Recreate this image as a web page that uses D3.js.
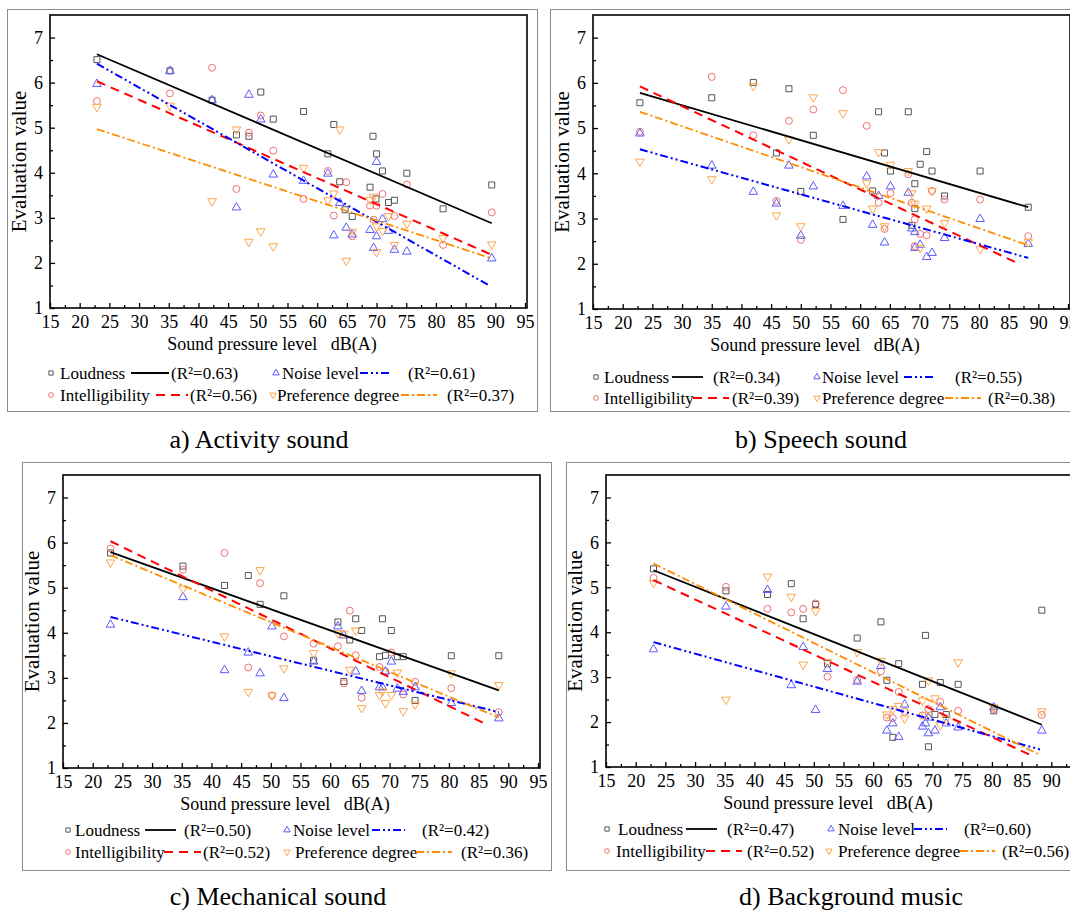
<!DOCTYPE html>
<html>
<head>
<meta charset="utf-8">
<script src="https://cdn.jsdelivr.net/npm/d3@7"></script>
<style>
body { margin: 0; background: #fff; }
svg { display: block; font-family: "Liberation Serif", "Times New Roman", serif; }
</style>
</head>
<body>
<svg id="chart" width="1070" height="911"></svg>
<script>
// ---- data: [sound pressure level dB(A), evaluation value] ----
const seriesNames = ["Loudness", "Intelligibility", "Noise level", "Preference degree"];

// a) Activity sound
const actLoud = [[22.9,6.51],[35.2,6.26],[42.3,5.61],[46.4,4.84],[48.5,4.81],[50.5,5.79],[52.6,5.19],[57.7,5.36],[61.8,4.42],[62.8,5.07],[63.8,3.80],[64.7,3.18],[65.9,3.03],[68.9,3.68],[69.4,4.81],[69.9,3.42],[70.0,4.42],[71.0,4.04],[72.0,3.34],[73.0,3.39],[75.1,3.99],[81.2,3.20],[89.4,3.73]];
const actIntel = [[22.9,5.59],[35.2,5.76],[42.3,6.33],[46.4,3.64],[48.5,4.89],[50.5,5.27],[52.6,4.49],[57.7,3.42],[61.8,4.04],[62.8,3.05],[64.9,3.79],[65.9,2.59],[68.9,3.27],[69.5,2.96],[70.0,3.27],[71.0,3.53],[73.0,3.04],[75.1,3.74],[81.2,2.40],[89.4,3.12]];
const actNoise = [[22.9,5.97],[35.2,6.26],[42.3,5.61],[46.4,3.23],[48.5,5.73],[50.5,5.18],[52.6,3.96],[57.7,3.82],[61.8,3.98],[62.8,2.61],[63.8,3.33],[64.9,2.78],[65.9,2.63],[68.9,2.73],[69.5,2.33],[70.0,4.24],[70.0,2.59],[71.0,2.97],[72.0,2.71],[73.0,2.29],[75.1,2.25],[89.4,2.10]];
const actPref = [[22.9,5.46],[35.2,5.49],[42.3,3.37],[46.4,4.96],[48.5,2.47],[50.5,2.70],[52.6,2.37],[57.7,4.11],[61.8,3.39],[62.8,3.54],[63.8,4.96],[64.9,2.05],[65.9,2.69],[68.9,3.40],[69.5,3.47],[70.0,2.81],[70.0,2.24],[71.0,2.71],[72.0,3.04],[73.0,2.40],[75.1,2.87],[81.2,2.55],[89.4,2.41]];
// fitted lines [x0, y0, x1, y1] in order loudness, intelligibility, noise, preference
const actFits = [[22.9,6.63,89.4,2.88],[22.9,6.03,89.4,2.18],[22.9,6.42,89.1,1.49],[22.9,4.97,89.4,2.10]];
const actR2 = ["0.63", "0.56", "0.61", "0.37"];

// b) Speech sound
const speechLoud = [[22.9,5.56],[35.0,5.67],[42.0,6.01],[48.0,5.87],[45.9,4.45],[52.1,4.84],[50.0,3.60],[57.1,2.98],[63.1,5.36],[68.1,5.36],[64.1,4.45],[65.1,4.05],[62.1,3.61],[71.2,4.48],[70.1,4.20],[72.1,4.05],[69.2,3.77],[74.2,3.50],[69.2,3.22],[68.7,2.85],[80.2,4.05],[88.3,3.25]];
const speechIntel = [[22.9,4.92],[35.0,6.13],[42.0,4.84],[45.9,3.39],[48.0,5.16],[50.0,2.53],[52.1,5.41],[57.1,5.84],[61.1,5.05],[63.1,3.35],[64.1,2.77],[65.1,3.56],[68.1,3.98],[68.7,3.35],[69.2,2.98],[69.2,2.39],[70.1,2.66],[71.2,2.63],[72.1,3.61],[74.2,3.42],[80.2,3.42],[88.3,2.61]];
const speechNoise = [[22.9,4.88],[35.0,4.17],[42.0,3.59],[45.9,3.33],[48.0,4.17],[50.0,2.62],[52.1,3.71],[57.1,3.28],[61.1,3.93],[62.1,2.86],[63.1,3.50],[64.1,2.47],[65.1,3.71],[68.1,3.57],[68.7,2.78],[69.2,2.70],[69.2,2.35],[70.1,2.42],[71.2,2.15],[72.1,2.24],[74.2,2.57],[80.2,2.99],[88.3,2.44]];
const speechPref = [[22.9,4.26],[35.0,3.87],[42.0,5.93],[45.9,3.07],[48.0,4.75],[50.0,2.83],[52.1,5.68],[57.1,5.33],[61.1,3.78],[62.1,3.22],[63.1,4.47],[64.1,2.83],[65.1,4.19],[68.1,4.05],[68.7,3.56],[69.2,3.33],[70.1,2.35],[71.2,3.22],[72.1,3.61],[74.2,2.90],[80.2,2.33],[88.3,2.48]];
const speechFits = [[22.9,5.78,88.3,3.25],[22.9,5.92,86.9,1.99],[22.9,4.53,88.3,2.13],[22.9,5.36,88.3,2.41]];
const speechR2 = ["0.34", "0.39", "0.55", "0.38"];

// c) Mechanical sound
const mechLoud = [[23.0,5.77],[35.2,5.48],[42.2,5.05],[46.2,5.27],[48.2,4.63],[52.2,4.82],[57.2,3.39],[61.3,4.24],[62.3,2.92],[63.3,3.84],[64.3,4.31],[65.3,4.05],[68.3,3.47],[68.8,4.31],[69.3,3.50],[70.3,4.05],[71.3,3.47],[72.3,3.47],[74.3,2.50],[80.4,3.49],[88.4,3.49]];
const mechIntel = [[23.0,5.87],[35.2,5.40],[42.2,5.77],[46.2,3.23],[48.2,5.10],[50.2,2.61],[52.2,3.92],[57.2,3.76],[61.3,3.70],[62.3,2.88],[63.3,4.49],[64.3,3.50],[65.3,2.56],[68.3,3.24],[69.3,3.14],[70.3,3.56],[72.3,2.63],[74.3,2.91],[80.4,2.77],[88.4,2.24]];
const mechNoise = [[23.0,4.18],[35.2,4.79],[42.2,3.17],[46.2,3.56],[48.2,3.10],[50.2,4.14],[52.2,2.55],[57.2,3.36],[61.3,4.14],[62.3,3.94],[64.3,3.14],[65.3,2.71],[68.3,2.79],[68.8,2.79],[69.3,3.14],[70.3,3.36],[71.3,2.76],[72.3,2.69],[74.3,2.79],[80.4,2.44],[88.4,2.10]];
const mechPref = [[23.0,5.56],[35.2,4.98],[42.2,3.92],[46.2,2.69],[48.2,5.39],[50.2,2.61],[52.2,3.21],[57.2,3.55],[61.3,3.99],[62.3,3.98],[63.3,3.18],[64.3,4.05],[65.3,2.33],[68.3,2.62],[68.8,2.70],[69.3,2.44],[70.3,2.62],[71.3,3.12],[72.3,2.26],[74.3,2.41],[80.4,3.10],[88.4,2.84]];
const mechFits = [[23.0,5.79,88.4,2.72],[23.0,6.03,86.6,1.95],[23.0,4.35,88.4,2.24],[23.0,5.72,88.4,2.12]];
const mechR2 = ["0.50", "0.52", "0.42", "0.36"];

// d) Background music
const musicLoud = [[23.0,5.41],[35.2,4.92],[42.2,4.84],[46.2,5.08],[48.2,4.30],[50.3,4.62],[52.3,3.30],[57.3,3.87],[61.3,4.23],[62.3,2.93],[63.3,1.66],[64.3,3.30],[68.3,2.84],[68.8,3.93],[69.3,1.45],[70.4,2.17],[71.3,2.88],[72.3,2.17],[74.3,2.84],[80.3,2.25],[88.4,4.49]];
const musicIntel = [[23.0,5.21],[35.2,5.01],[42.2,4.52],[46.2,4.44],[48.2,4.52],[50.3,4.64],[52.3,3.01],[57.3,2.94],[61.3,3.13],[62.3,2.10],[63.3,2.09],[64.3,2.67],[65.3,2.23],[68.3,2.15],[69.3,2.29],[71.3,2.45],[74.3,2.25],[80.3,2.29],[88.4,2.16]];
const musicNoise = [[23.0,3.62],[35.2,4.57],[42.2,4.94],[46.2,2.82],[48.2,3.67],[50.3,2.27],[52.3,3.18],[57.3,2.90],[61.3,3.25],[62.3,1.81],[63.3,1.97],[64.3,1.67],[65.3,2.39],[68.3,1.90],[68.8,1.97],[69.3,2.10],[69.3,1.75],[70.4,1.81],[71.3,2.33],[72.3,1.97],[74.3,1.88],[80.3,2.33],[88.4,1.81]];
const musicPref = [[23.0,5.10],[35.2,2.50],[42.2,5.24],[46.2,4.79],[48.2,3.28],[50.3,4.47],[52.3,3.34],[57.3,3.56],[61.3,3.36],[62.3,2.17],[63.3,2.29],[64.3,2.36],[65.3,2.08],[68.3,2.48],[68.8,2.15],[69.3,2.93],[70.4,2.53],[71.3,1.93],[72.3,2.07],[74.3,3.33],[80.3,2.33],[88.4,2.24]];
const musicFits = [[23.0,5.38,88.4,1.94],[23.0,5.16,87.1,1.23],[23.0,3.78,88.1,1.39],[23.0,5.53,87.9,1.28]];
const musicR2 = ["0.47", "0.52", "0.60", "0.56"];

const xTicks = d3.range(15, 96, 5);
const yTicks = d3.range(1, 8, 1);

// ---- styles ----
const markerShape = [d3.symbolSquare, d3.symbolCircle, d3.symbolTriangle, d3.symbolTriangle];
const markerRotate = [0, 0, 0, 180];
const markerSize = [36, 38, 32, 32];
const markerColor = ["#555555", "#f07070", "#5a5aff", "#ffa64d"];
const lineColor = ["#000000", "#ff0000", "#0000ff", "#ff8c00"];
const lineDash = [null, "9,6", "8,3,2,3,2,3", "8,3,2,3"];
const lineWidth = [1.8, 2, 2, 1.8];

// panel layout (pixels)
const panels = [
  { series: [actLoud, actIntel, actNoise, actPref], fits: actFits, r2: actR2,
    caption: "a) Activity sound", frame: [7, 9, 537, 411], left: 50, top: 15, bottom: 308,
    capX: 259, capY: 448, rowY: [373, 395],
    legend: [[51,60,131,169,171],[51,60,156,188,190],[276,282,360,390,408],[273,277,401,437,447]] },
  { series: [speechLoud, speechIntel, speechNoise, speechPref], fits: speechFits, r2: speechR2,
    caption: "b) Speech sound", frame: [550, 9, 1080, 411], left: 593, top: 15, bottom: 309,
    capX: 821, capY: 448, rowY: [377, 398],
    legend: [[596,604,672,703,713],[596,604,693,729,732],[817,822,904,935,955],[817,822,945,981,988]] },
  { series: [mechLoud, mechIntel, mechNoise, mechPref], fits: mechFits, r2: mechR2,
    caption: "c) Mechanical sound", frame: [22, 462, 551, 870], left: 63, top: 475, bottom: 768,
    capX: 278, capY: 905, rowY: [830, 852],
    legend: [[68,75,145,176,184],[68,75,164,201,203],[287,293,372,405,422],[287,295,416,452,461]] },
  { series: [musicLoud, musicIntel, musicNoise, musicPref], fits: musicFits, r2: musicR2,
    caption: "d) Background music", frame: [566, 462, 1080, 870], left: 606, top: 475, bottom: 767,
    capX: 851, capY: 905, rowY: [829, 851],
    legend: [[607,618,686,717,727],[607,616,706,742,747],[831,838,914,947,964],[829,838,960,995,1002]] }
];

const svg = d3.select("#chart");
const plotW = 475;

panels.forEach(p => {
  // outer gray frame
  svg.append("rect")
    .attr("x", p.frame[0] + 0.5).attr("y", p.frame[1] + 0.5)
    .attr("width", p.frame[2] - p.frame[0]).attr("height", p.frame[3] - p.frame[1])
    .attr("fill", "none").attr("stroke", "#8c8c8c").attr("stroke-width", 1);

  const x = d3.scaleLinear().domain([15, 95]).range([p.left, p.left + plotW]);
  const y = d3.scaleLinear().domain([1, 7.5]).range([p.bottom, p.top]);

  // axes with inward ticks
  const xAxis = svg.append("g")
    .attr("transform", `translate(0,${p.bottom})`)
    .call(d3.axisBottom(x).tickValues(xTicks).tickSize(-5).tickPadding(7).tickFormat(d3.format("d")));
  svg.append("g")
    .attr("transform", `translate(0,${p.bottom})`)
    .call(d3.axisBottom(x).tickValues(d3.range(17.5, 95, 5)).tickSize(-3).tickFormat(""));
  const yAxis = svg.append("g")
    .attr("transform", `translate(${p.left},0)`)
    .call(d3.axisLeft(y).tickValues(yTicks).tickSize(-5).tickPadding(7).tickFormat(d3.format("d")));
  svg.append("g")
    .attr("transform", `translate(${p.left},0)`)
    .call(d3.axisLeft(y).tickValues(d3.range(1.5, 7.5, 1)).tickSize(-3).tickFormat(""));

  svg.selectAll(".domain").remove();
  svg.selectAll(".tick line").attr("stroke", "#000").attr("stroke-width", 1.3);
  [xAxis, yAxis].forEach(g => g.selectAll("text")
    .attr("fill", "#000")
    .style("font-family", "'Liberation Serif', serif")
    .style("font-size", "18px"));

  // plot box
  svg.append("rect")
    .attr("x", p.left).attr("y", p.top)
    .attr("width", plotW + 2).attr("height", p.bottom - p.top)
    .attr("fill", "none").attr("stroke", "#000").attr("stroke-width", 1.6);

  // axis titles
  svg.append("text")
    .attr("transform", `translate(${p.left - 24},${(p.top + p.bottom) / 2}) rotate(-90)`)
    .attr("text-anchor", "middle")
    .style("font-size", "21px")
    .text("Evaluation value");
  svg.append("text")
    .attr("x", p.left + 222).attr("y", p.bottom + 42)
    .attr("text-anchor", "middle")
    .style("font-size", "18px")
    .attr("xml:space", "preserve")
    .text("Sound pressure level   dB(A)");

  // scatter points
  p.series.forEach((data, i) => {
    svg.append("g").selectAll("path")
      .data(data)
      .join("path")
      .attr("d", d3.symbol(markerShape[i], markerSize[i]))
      .attr("transform", d => `translate(${x(d[0])},${y(d[1])}) rotate(${markerRotate[i]})`)
      .attr("fill", "none")
      .attr("stroke", markerColor[i])
      .attr("stroke-width", 1);
  });

  // regression lines
  p.fits.forEach((f, i) => {
    svg.append("line")
      .attr("x1", x(f[0])).attr("y1", y(f[1]))
      .attr("x2", x(f[2])).attr("y2", y(f[3]))
      .attr("stroke", lineColor[i])
      .attr("stroke-width", lineWidth[i])
      .attr("stroke-dasharray", lineDash[i]);
  });

  // legend
  p.legend.forEach((L, i) => {
    const row = (i === 0 || i === 2) ? 0 : 1;
    const cy = p.rowY[row];
    svg.append("path")
      .attr("d", d3.symbol(markerShape[i], 18))
      .attr("transform", `translate(${L[0]},${cy}) rotate(${markerRotate[i]})`)
      .attr("fill", "none").attr("stroke", markerColor[i]).attr("stroke-width", 1);
    svg.append("text")
      .attr("x", L[1]).attr("y", cy + 5.5)
      .style("font-size", "17px")
      .text(seriesNames[i]);
    svg.append("line")
      .attr("x1", L[2]).attr("x2", L[3]).attr("y1", cy).attr("y2", cy)
      .attr("stroke", lineColor[i])
      .attr("stroke-width", lineWidth[i])
      .attr("stroke-dasharray", lineDash[i]);
    svg.append("text")
      .attr("x", L[4]).attr("y", cy + 5.5)
      .style("font-size", "17px")
      .text(`(R\u00B2=${p.r2[i]})`);
  });

  // caption
  svg.append("text")
    .attr("x", p.capX).attr("y", p.capY)
    .attr("text-anchor", "middle")
    .style("font-size", "26px")
    .text(p.caption);
});
</script>
</body>
</html>
